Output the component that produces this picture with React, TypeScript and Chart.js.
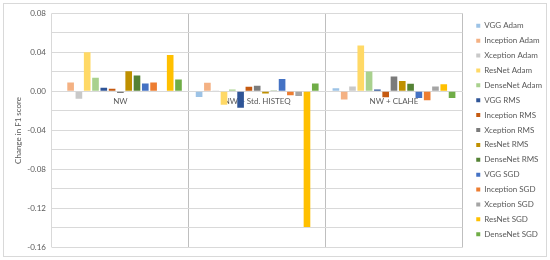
import React, { useEffect, useRef } from 'react';
import { Chart, registerables } from 'chart.js';

Chart.register(...registerables);

const categories = ['NW', 'NW + Std. HISTEQ', 'NW + CLAHE'];

const vggAdam = [-0.0005, -0.0058, 0.0032];
const inceptionAdam = [0.0092, 0.0088, -0.0083];
const xceptionAdam = [-0.0075, 0.0003, 0.005];
const resnetAdam = [0.04, -0.0137, 0.047];
const densenetAdam = [0.014, 0.0018, 0.0203];
const vggRms = [0.0037, -0.0168, 0.0018];
const inceptionRms = [0.0028, 0.0048, -0.006];
const xceptionRms = [-0.0018, 0.0058, 0.0152];
const resnetRms = [0.0205, -0.0022, 0.0107];
const densenetRms = [0.0163, 0.0003, 0.0079];
const vggSgd = [0.008, 0.0126, -0.0069];
const inceptionSgd = [0.0091, -0.004, -0.0092];
const xceptionSgd = [-0.0005, -0.0048, 0.0049];
const resnetSgd = [0.0373, -0.139, 0.0072];
const densenetSgd = [0.0121, 0.0081, -0.0069];

const seriesNames = [
  'VGG Adam', 'Inception Adam', 'Xception Adam', 'ResNet Adam', 'DenseNet Adam',
  'VGG RMS', 'Inception RMS', 'Xception RMS', 'ResNet RMS', 'DenseNet RMS',
  'VGG SGD', 'Inception SGD', 'Xception SGD', 'ResNet SGD', 'DenseNet SGD',
];
const seriesValues = [
  vggAdam, inceptionAdam, xceptionAdam, resnetAdam, densenetAdam,
  vggRms, inceptionRms, xceptionRms, resnetRms, densenetRms,
  vggSgd, inceptionSgd, xceptionSgd, resnetSgd, densenetSgd,
];
const seriesColors = [
  '#9DC3E6', '#F4B183', '#C9C9C9', '#FFD966', '#A9D18E',
  '#2F5597', '#C55A11', '#7B7B7B', '#BF9000', '#548235',
  '#4472C4', '#ED7D31', '#A5A5A5', '#FFC000', '#70AD47',
];

const yMin = -0.16;
const yMax = 0.08;
const yStep = 0.02;

export default function App() {
  const ref = useRef<HTMLCanvasElement>(null);

  useEffect(() => {
    const font = { family: 'Lato', size: 8 };
    const textColor = '#595959';
    const chart = new Chart(ref.current!, {
      type: 'bar',
      data: {
        labels: categories,
        datasets: seriesValues.map((d, i) => ({
          label: seriesNames[i],
          data: d,
          backgroundColor: seriesColors[i],
          borderWidth: 0,
          categoryPercentage: 0.91,
          barPercentage: 0.8,
        })),
      },
      options: {
        animation: false,
        responsive: false,
        layout: { padding: { left: 3, right: -2, top: 0, bottom: 0 } },
        plugins: {
          legend: {
            position: 'right',
            labels: {
              boxWidth: 4,
              boxHeight: 4,
              padding: 6.88,
              color: textColor,
              font,
            },
          },
          tooltip: { enabled: false },
        },
        scales: {
          x: {
            position: { y: 0 } as any,
            grid: {
              offset: true,
              drawTicks: false,
              color: (ctx: any) => (ctx.index === 0 ? '#D9D9D9' : '#BFBFBF'),
            },
            border: { display: true, color: '#D9D9D9' },
            ticks: { color: textColor, font, padding: 5, maxRotation: 0 },
          },
          y: {
            min: yMin,
            max: yMax,
            afterFit: (s: any) => {
              s.width = 49;
              s.paddingTop = 13.3;
              s.paddingBottom = 12.5;
            },
            ticks: {
              stepSize: yStep,
              color: textColor,
              font,
              padding: 6,
              callback: (v: any, i: number) => {
                if (i % 2 !== 0) return '';
                const n = Math.abs(v) < 1e-9 ? 0 : Number(v);
                return n.toFixed(2);
              },
            },
            grid: { color: '#D9D9D9', drawTicks: false },
            border: { display: false },
            title: {
              display: true,
              text: 'Change in F1 score',
              color: textColor,
              font,
              padding: { top: 11, bottom: 0 },
            },
          },
          yRight: {
            type: 'linear',
            position: 'right',
            display: true,
            grid: { display: false },
            ticks: { display: false },
            border: { display: false },
            afterFit: (s: any) => {
              s.width = 7;
            },
          },
        },
      },
    } as any);
    return () => chart.destroy();
  }, []);

  return (
    <div style={{ position: 'fixed', left: 0, top: 0, width: 550, height: 260, background: '#fff' }}>
      <div
        style={{
          position: 'absolute',
          left: 3,
          top: 3,
          width: 544,
          height: 254,
          border: '1px solid #D9D9D9',
          boxSizing: 'border-box',
        }}
      />
      <canvas ref={ref} width={550} height={260} style={{ position: 'absolute', left: 0, top: 0 }} />
    </div>
  );
}
